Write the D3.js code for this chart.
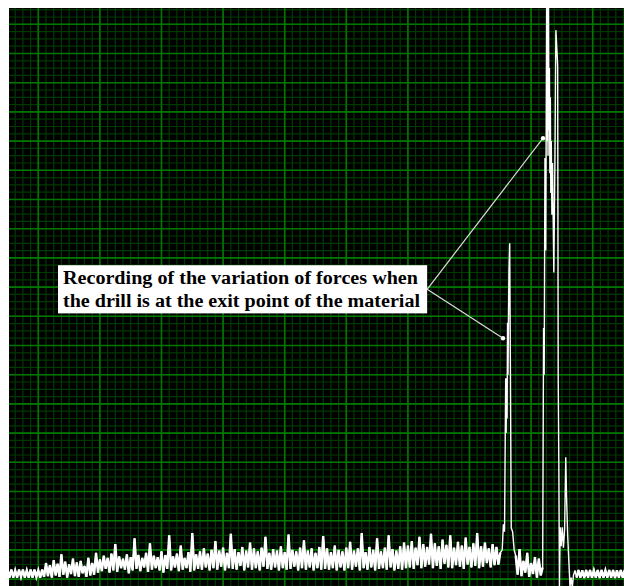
<!DOCTYPE html>
<html>
<head>
<meta charset="utf-8">
<script src="https://cdn.jsdelivr.net/npm/d3@7"></script>
<style>
  html, body { margin: 0; padding: 0; background: #fff; }
  svg { display: block; }
</style>
</head>
<body>
<svg id="scope" width="624" height="586"></svg>
<script>
// recorder step, in grid divisions
var step = 0.25;

// flat signal before the drill touches the part (t = 0 .. 4.5)
var leadInForce = [1.3,0.2,1.3,0.2,1.2,0.2,1.3,0.3,1.3,0.2,1.2,0.2,1.3,0.2,1.3,0.3,1.2,0.2,1.3];

// drilling noise, starts at t = 4.75
var drillStart = 4.75;
var drillingForce = [
  0.3,2.2,0.4,1.9,0.2,2.6,0.5,2.1,0.3,3.4,0.6,2.4,0.2,2.0,0.7,2.8,0.4,2.3,0.3,2.5,0.8,1.8,0.3,2.9,0.5,2.2,0.6,3.6,0.9,
  2.7,1.1,3.2,1.4,2.9,0.9,3.5,1.2,4.8,1.0,3.1,1.5,2.8,1.3,3.4,0.8,3.0,1.2,5.6,1.4,3.3,1.1,2.9,1.6,3.6,1.0,4.9,1.3,3.2,1.5,3.0,1.2,3.8,0.9,3.3,1.4,6.0,1.2,3.1,1.6,3.5,1.1,4.6,1.3,2.9,1.5,3.7,1.0,6.3,1.2,3.4,1.4,
  3.8,1.3,4.2,1.6,3.5,1.2,4.0,1.5,5.2,1.3,3.9,1.7,4.3,1.2,3.6,1.5,6.2,1.4,4.1,1.3,3.7,1.8,4.4,1.2,3.9,1.6,5.0,1.3,4.2,1.5,3.8,1.2,4.3,1.7,5.8,1.4,
  3.6,1.3,4.1,1.6,3.9,1.2,4.5,1.5,3.7,1.3,6.1,1.4,4.0,1.7,3.8,1.2,4.3,1.5,5.3,1.3,3.9,1.6,4.2,1.2,3.6,1.5,4.4,1.3,5.9,1.4,4.2,1.3,3.7,1.5,4.6,1.2,
  4.0,1.6,3.8,1.2,4.3,1.5,5.1,1.3,3.9,1.7,4.2,1.2,6.3,1.5,3.7,1.3,4.4,1.6,4.0,1.2,5.6,1.4,3.8,1.5,4.3,1.3,6.0,1.6,4.1,1.2,3.9,1.4,4.5,1.3,5.0,1.5,
  4.6,1.6,5.2,1.4,4.3,1.9,5.8,1.5,4.8,1.7,4.4,2.0,6.2,1.5,4.9,1.8,4.5,1.4,5.4,2.1,4.7,1.6,6.0,1.5,4.3,1.9,5.1,1.7,4.6,1.4,
  5.7,2.0,4.4,1.6,4.9,1.8,6.3,1.5,4.5,1.7,5.0,2.2,4.2,1.6,4.8,1.9,4.4,2.0,3.6
];

// first exit peak
var firstExitTime  = [64.25,64.4,64.55,64.7,64.76,64.82,64.88,64.94,65.0,65.06,65.12,65.22,65.32,65.42,65.6,65.8];
var firstExitForce = [4.0,7.5,6.5,27.5,20.0,27.5,22.0,35.1,28.0,35.1,42.1,46.0,27.5,7.0,6.5,4.0];

// low noise between the two peaks, starts at t = 66
var gapStart = 66.0;
var gapForce = [3.2,0.6,4.1,0.4,2.5,0.9,3.6,0.3,2.2,0.7,3.0,0.2,2.8,0.5,1.6];

// main exit peak
var mainExitTime  = [69.62,69.7,69.8,69.9,70.02,70.08,70.14,70.2,70.26,70.32,70.38,70.44,70.5,70.56,70.62,70.7,70.78,70.86,70.95,71.1,71.22,71.35,71.45,71.52,71.6,71.68,71.78,71.9,72.05,72.2,72.35,72.5,72.6,72.75,72.9,73.05,73.2,73.35,73.5,73.7];
var mainExitForce = [34.4,28.0,57.7,45.0,79.5,60.0,79.5,58.0,79.5,61.5,70.0,55.6,66.0,52.9,60.0,49.9,57.0,49.9,42.0,58.0,75.2,72.5,70.4,27.5,16.0,-1.2,7.1,4.5,7.1,4.3,6.8,16.7,11.5,6.0,2.5,-1.0,0.2,-1.2,0.5,1.2];

// flat signal after the drill leaves, starts at t = 73.9
var tailStart = 73.9;
var tailForce = [0.2,1.25,0.2,1.2,0.15,1.25,0.2,1.25,0.2,1.2,0.2,1.25,0.15,1.25,0.2,1.2,0.2,1.25,0.2,1.25,0.15,1.2,0.2,1.25,0.2,1.25];

var noteLines = ["Recording of the variation of forces when",
                 "the drill is at the exit point of the material"];
var noteTargets = [{t: 69.55, f: 60.4}, {t: 64.35, f: 33.0}];
var noteBox = {t0: 6.56, t1: 54.5, f0: 43.0, f1: 36.4};

// --- build the trace
var leadIn = leadInForce.map(function(f, i){ return {t: i * step, f: f}; });
var drilling = drillingForce.map(function(f, i){ return {t: drillStart + i * step, f: f}; });
var firstExit = firstExitTime.map(function(t, i){ return {t: t, f: firstExitForce[i]}; });
var gap = gapForce.map(function(f, i){ return {t: gapStart + i * step, f: f}; });
var mainExit = mainExitTime.map(function(t, i){ return {t: t, f: mainExitForce[i]}; });
var tail = tailForce.map(function(f, i){ return {t: tailStart + i * step, f: f}; });

var signal = [].concat(leadIn, drilling, firstExit, gap, mainExit, tail);

var plot = {left: 9, top: 8, right: 624, bottom: 586};

var x = d3.scaleLinear().domain([0, 80]).range([7.5, 7.5 + 80 * 7.7]);
var y = d3.scaleLinear().domain([0, 80]).range([579.1, 579.1 - 80 * 7.3]);

var svg = d3.select("#scope");

svg.append("clipPath").attr("id", "clip")
  .append("rect")
  .attr("x", plot.left).attr("y", plot.top)
  .attr("width", plot.right - plot.left).attr("height", plot.bottom - plot.top);

var g = svg.append("g").attr("clip-path", "url(#clip)");

g.append("rect")
  .attr("x", plot.left).attr("y", plot.top)
  .attr("width", plot.right - plot.left).attr("height", plot.bottom - plot.top)
  .attr("fill", "#000");

// grid: minor every division, major every 8 (x) / 4 (y)
var xTicks = d3.range(0, 81);
var yTicks = d3.range(-1, 81);

function gridLayer(xs, ys, color, w){
  var layer = g.append("g").attr("stroke", color).attr("stroke-width", w);
  layer.selectAll("line.v").data(xs).enter().append("line").attr("class", "v")
    .attr("x1", function(d){ return x(d); }).attr("x2", function(d){ return x(d); })
    .attr("y1", plot.top).attr("y2", plot.bottom);
  layer.selectAll("line.h").data(ys).enter().append("line").attr("class", "h")
    .attr("y1", function(d){ return y(d); }).attr("y2", function(d){ return y(d); })
    .attr("x1", plot.left).attr("x2", plot.right);
}

gridLayer(xTicks, yTicks, "#003a00", 1.2);
gridLayer(xTicks.filter(function(d){ return d % 8 == 4; }),
          yTicks.filter(function(d){ return d % 4 == 0; }), "#007800", 1.6);

// trace
var line = d3.line()
  .x(function(d){ return x(d.t); })
  .y(function(d){ return y(d.f); });

g.append("path")
  .datum(signal)
  .attr("d", line)
  .attr("fill", "none")
  .attr("stroke", "#fff")
  .attr("stroke-width", 1.4);

// dense parts of the recording show as a solid band
[[].concat(leadIn, drilling), gap, tail].forEach(function(part){
  g.append("path")
    .datum(part)
    .attr("d", line)
    .attr("fill", "none")
    .attr("stroke", "#fff")
    .attr("stroke-width", 2.4);
});

// annotation
var anchor = {x: x(noteBox.t1), y: (y(noteBox.f0) + y(noteBox.f1)) / 2};

g.selectAll("line.lead").data(noteTargets).enter().append("line")
  .attr("class", "lead")
  .attr("x1", anchor.x).attr("y1", anchor.y)
  .attr("x2", function(d){ return x(d.t); })
  .attr("y2", function(d){ return y(d.f); })
  .attr("stroke", "#dcdcdc").attr("stroke-width", 1.2);

g.selectAll("circle.tip").data(noteTargets).enter().append("circle")
  .attr("class", "tip")
  .attr("cx", function(d){ return x(d.t); })
  .attr("cy", function(d){ return y(d.f); })
  .attr("r", 2.2).attr("fill", "#fff");

g.append("rect")
  .attr("x", x(noteBox.t0)).attr("y", y(noteBox.f0))
  .attr("width", x(noteBox.t1) - x(noteBox.t0))
  .attr("height", y(noteBox.f1) - y(noteBox.f0))
  .attr("fill", "#fff");

g.selectAll("text.note").data(noteLines).enter().append("text")
  .attr("class", "note")
  .attr("x", x(noteBox.t0) + 5)
  .attr("y", function(d, i){ return y(noteBox.f0) + 19 + i * 23; })
  .attr("textLength", function(d, i){ return i == 0 ? 355 : 357; })
  .attr("lengthAdjust", "spacingAndGlyphs")
  .style("font-family", "'Liberation Serif', 'Times New Roman', serif")
  .style("font-weight", "bold")
  .style("font-size", "18px")
  .attr("fill", "#000")
  .text(function(d){ return d; });
</script>
</body>
</html>
